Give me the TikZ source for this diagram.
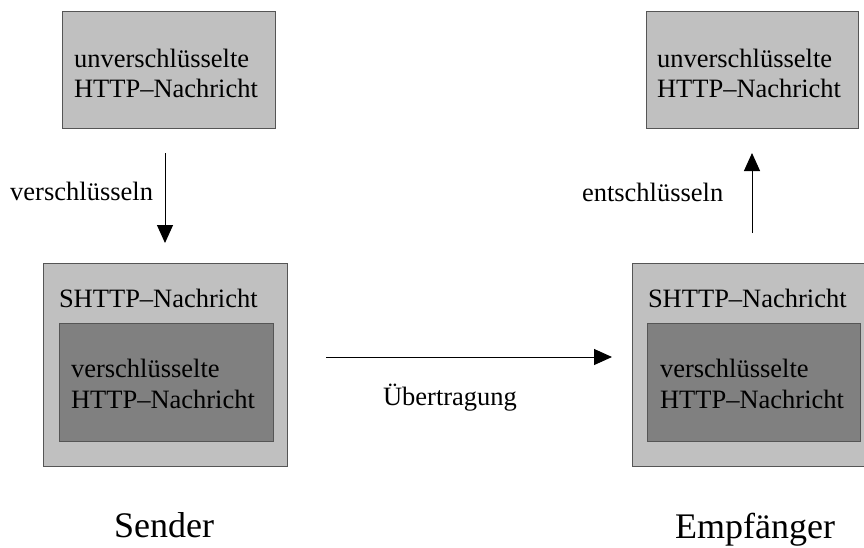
\documentclass[tikz,border=0pt]{standalone}
\usepackage{fontspec}
\setmainfont{Liberation Serif}
\usetikzlibrary{arrows.meta}
\definecolor{boxline}{RGB}{85,85,85}
\definecolor{lightfill}{RGB}{192,192,192}
\definecolor{darkfill}{RGB}{128,128,128}
\begin{document}
\begin{tikzpicture}[x=1pt,y=-1pt,
  box/.style={draw=boxline, line width=1pt, anchor=north west, inner sep=0pt, outer sep=0pt},
  lbox/.style={box, fill=lightfill},
  dbox/.style={box, fill=darkfill},
  txt/.style={font=\fontsize{26.5}{30}\selectfont, inner sep=0pt, outer sep=0pt},
  big/.style={font=\fontsize{36}{40}\selectfont, inner sep=0pt, outer sep=0pt},
  arr/.style={draw=black, line width=1pt, -{Triangle[length=18pt,width=16pt]}}
]
\useasboundingbox (0,0) rectangle (864,547);
\clip (0,0) rectangle (864,547);

% top boxes
\node[lbox, minimum width=213pt, minimum height=117pt] (t1) at (62,11) {};
\node[lbox, minimum width=212pt, minimum height=117pt] (t2) at (646,11) {};
\node[txt, anchor=base west] (t1a) at (74,67) {unverschlüsselte};
\node[txt, anchor=base west] (t1b) at (74,97) {HTTP–Nachricht};
\node[txt, anchor=base west] (t2a) at (657,67) {unverschlüsselte};
\node[txt, anchor=base west] (t2b) at (657,97) {HTTP–Nachricht};

% sender box
\node[lbox, minimum width=244pt, minimum height=203pt] (s1) at (43,263) {};
\node[dbox, minimum width=214pt, minimum height=118pt] (s1i) at (59,323) {};
\node[txt, anchor=base west] (s1t) at (59,307) {SHTTP–Nachricht};
\node[txt, anchor=base west] (s1a) at (71,377) {verschlüsselte};
\node[txt, anchor=base west] (s1b) at (71,408) {HTTP–Nachricht};

% receiver box
\node[lbox, minimum width=244pt, minimum height=203pt] (r1) at (632,263) {};
\node[dbox, minimum width=213pt, minimum height=118pt] (r1i) at (647,323) {};
\node[txt, anchor=base west] (r1t) at (648,307) {SHTTP–Nachricht};
\node[txt, anchor=base west] (r1a) at (660,377) {verschlüsselte};
\node[txt, anchor=base west] (r1b) at (660,408) {HTTP–Nachricht};

% arrows
\draw[arr, shorten <=25pt, shorten >=20pt] (s1.north |- t1.south) -- (s1.north);
\draw[arr, shorten <=30pt, shorten >=25pt] (t2.south |- r1.north) -- (t2.south);
\draw[arr, shorten <=39pt, shorten >=20pt] ([yshift=7.5pt]s1.east) -- ([yshift=7.5pt]s1.east -| r1.west);

% labels
\node[txt, anchor=base east] (l1) at (153,200) {verschlüsseln};
\node[txt, anchor=base west] (l2) at (582,201) {entschlüsseln};
\node[txt, anchor=base] (l3) at (450,405) {Übertragung};
\node[big, anchor=base] (snd) at (164,537) {Sender};
\node[big, anchor=base] (emp) at (755,538) {Empfänger};
\end{tikzpicture}
\end{document}
